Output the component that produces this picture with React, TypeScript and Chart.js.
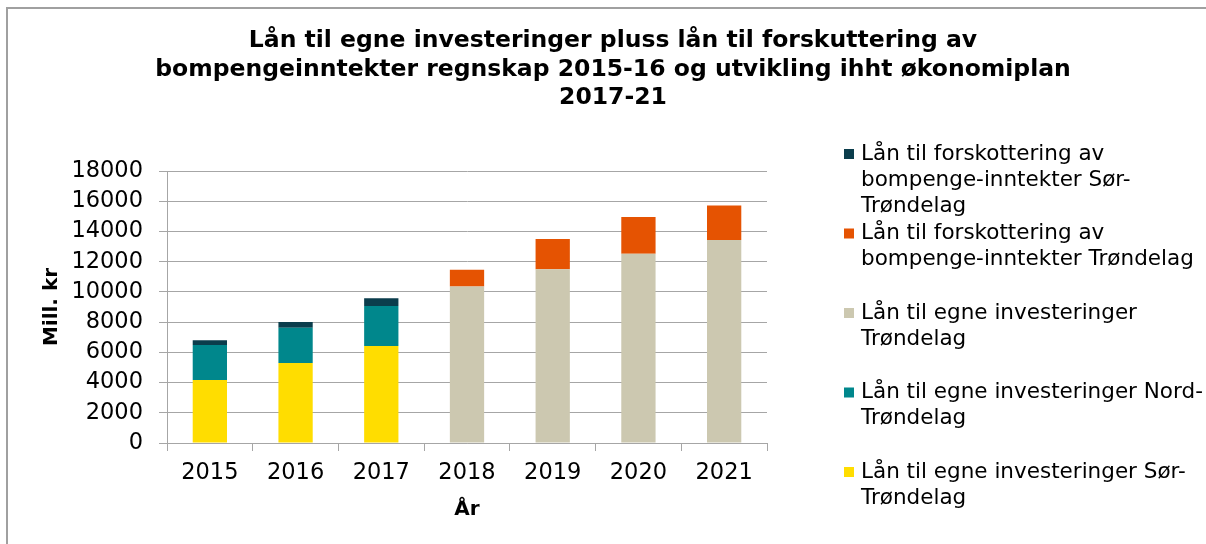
import React, { useEffect, useRef } from 'react';
import { Chart, registerables } from 'chart.js';

Chart.register(...registerables);

const categories = ['2015', '2016', '2017', '2018', '2019', '2020', '2021'];

const sorInvest = [4170, 5300, 6420, null, null, null, null];
const nordInvest = [2320, 2330, 2650, null, null, null, null];
const trondelagInvest = [null, null, null, 10350, 11500, 12530, 13440];
const forskTrondelag = [null, null, null, 1120, 2000, 2430, 2270];
const forskSor = [310, 370, 510, null, null, null, null];

const yMin = 0;
const yMax = 18000;
const yStep = 2000;

const titleLines = [
  'Lån til egne investeringer pluss lån til forskuttering av',
  'bompengeinntekter regnskap 2015-16 og utvikling ihht økonomiplan',
  '2017-21',
];
const yTitle = 'Mill. kr';
const xTitle = 'År';

const labelSorInvest = ['Lån til egne investeringer Sør-', 'Trøndelag'];
const labelNordInvest = ['Lån til egne investeringer Nord-', 'Trøndelag'];
const labelTrondelagInvest = ['Lån til egne investeringer', 'Trøndelag'];
const labelForskTrondelag = ['Lån til forskottering av', 'bompenge-inntekter Trøndelag'];
const labelForskSor = ['Lån til forskottering av', 'bompenge-inntekter Sør-', 'Trøndelag'];

const FONT = '"DejaVu Sans", Verdana, sans-serif';
const GRID = '#a6a6a6';

const sideLegend = {
  id: 'sideLegend',
  afterDraw(chart: any) {
    const ctx = chart.ctx;
    const ds = chart.data.datasets;
    const x0 = chart.chartArea.right + 77;
    const y0 = 154;
    const slot = 79.5;
    const lh = 26;
    ctx.save();
    ctx.font = `21.5px ${FONT}`;
    ctx.textBaseline = 'middle';
    ctx.textAlign = 'left';
    for (let k = 0; k < ds.length; k++) {
      const d = ds[ds.length - 1 - k];
      const y = y0 + k * slot;
      ctx.fillStyle = d.backgroundColor;
      ctx.fillRect(x0, y - 5, 10, 10);
      ctx.fillStyle = '#000';
      const lines: string[] = d.legendLines;
      lines.forEach((t, i) => ctx.fillText(t, x0 + 17, y + i * lh));
    }
    ctx.restore();
  },
};

export default function App() {
  const ref = useRef<HTMLCanvasElement | null>(null);

  useEffect(() => {
    if (!ref.current) return;
    const mk = (label: string[], data: (number | null)[], color: string) => ({
      label: label.join(' '),
      legendLines: label,
      data,
      backgroundColor: color,
      borderWidth: 0,
      barPercentage: 0.4,
      categoryPercentage: 1,
    });
    const chart = new Chart(ref.current, {
      type: 'bar',
      data: {
        labels: categories,
        datasets: [
          mk(labelSorInvest, sorInvest, '#ffdd00'),
          mk(labelNordInvest, nordInvest, '#00878c'),
          mk(labelTrondelagInvest, trondelagInvest, '#ccc8b0'),
          mk(labelForskTrondelag, forskTrondelag, '#e55302'),
          mk(labelForskSor, forskSor, '#0b3d4c'),
        ] as any,
      },
      options: {
        animation: false,
        responsive: false,
        devicePixelRatio: 1,
        layout: { padding: { left: 20, top: 0, right: 0, bottom: 0 } },
        plugins: {
          legend: { display: false },
          tooltip: { enabled: false },
          title: {
            display: true,
            text: titleLines,
            color: '#000',
            font: { family: FONT, size: 23.5, weight: 'bold', lineHeight: 1.213 },
            padding: { top: 26.75, bottom: 58.75 },
          },
        },
        scales: {
          x: {
            stacked: true,
            ticks: { color: '#000', font: { family: FONT, size: 22.5 }, padding: 9 },
            grid: { display: true, drawOnChartArea: false, offset: true, tickLength: 8, color: GRID },
            border: { color: GRID },
            title: {
              display: true,
              text: xTitle,
              color: '#000',
              font: { family: FONT, size: 20, weight: 'bold' },
              padding: { top: 0, bottom: 22 },
            },
            afterFit: (s: any) => {
              s.height = 101;
            },
          },
          y: {
            stacked: true,
            min: yMin,
            max: yMax,
            ticks: {
              stepSize: yStep,
              color: '#000',
              font: { family: FONT, size: 22.5 },
              padding: 16,
              callback: (v: any) => String(v),
            },
            grid: { color: GRID, tickLength: 8 },
            border: { color: GRID },
            title: {
              display: true,
              text: yTitle,
              color: '#000',
              font: { family: FONT, size: 20, weight: 'bold' },
              padding: { top: 20, bottom: 0 },
            },
            afterFit: (s: any) => {
              s.width = 147;
            },
          },
          yR: {
            type: 'linear',
            position: 'right',
            display: true,
            grid: { display: false, drawOnChartArea: false },
            ticks: { display: false },
            border: { display: false },
            afterFit: (s: any) => {
              s.width = 439;
            },
          },
        },
      } as any,
      plugins: [sideLegend],
    });
    return () => chart.destroy();
  }, []);

  return (
    <div
      style={{
        position: 'fixed',
        left: 0,
        top: 0,
        width: 1206,
        height: 544,
        overflow: 'hidden',
        background: '#fff',
      }}
    >
      <div
        style={{
          position: 'absolute',
          left: 6,
          top: 7,
          width: 1400,
          height: 800,
          border: '2px solid #a0a0a0',
        }}
      />
      <canvas
        ref={ref}
        width={1206}
        height={544}
        style={{ position: 'absolute', left: 0, top: 0, width: 1206, height: 544 }}
      />
    </div>
  );
}
